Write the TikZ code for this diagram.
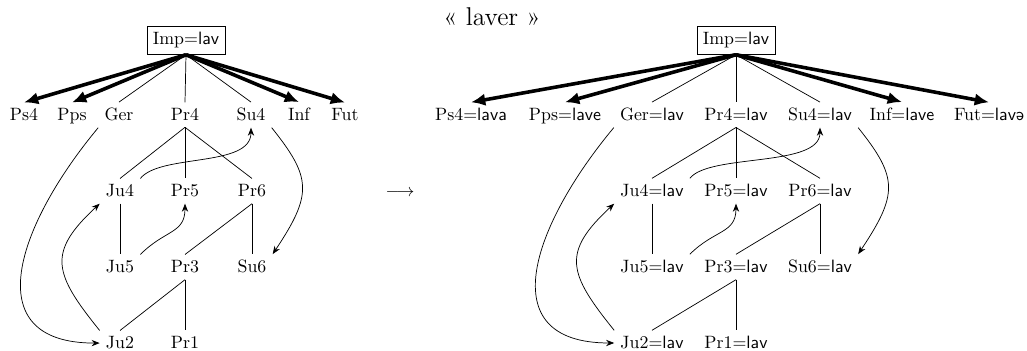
\documentclass[tikz,border=0pt]{standalone}
\usepackage{fontspec}
\usetikzlibrary{arrows.meta}
\newcommand{\ph}[1]{\textsf{#1}}
\begin{document}
\begin{tikzpicture}[x=0.56pt,y=-0.56pt,
  lab/.style={anchor=base, inner sep=3.33pt},
  impbox/.style={lab, draw, line width=0.4pt},
  bigarrow/.style={line width=2pt, -{Latex[length=8pt,width=7pt]}},
  carrow/.style={-{Stealth[length=4.5pt,width=3.5pt]}},
]
\useasboundingbox (0,0) rectangle (1027,351);
% ---------- left graph ----------
\node[impbox] (LImp) at (186,45) {Imp=\ph{lav}};
\node[lab] (LPs4) at (24,121) {Ps4};
\node[lab] (LPps) at (72,121) {Pps};
\node[lab] (LGer) at (119,121) {Ger};
\node[lab] (LPr4) at (185,121) {Pr4};
\node[lab] (LSu4) at (251,121) {Su4};
\node[lab] (LInf) at (299,121) {Inf};
\node[lab] (LFut) at (345,121) {Fut};
\node[lab] (LJu4) at (120,197) {Ju4};
\node[lab] (LPr5) at (185,197) {Pr5};
\node[lab] (LPr6) at (252,197) {Pr6};
\node[lab] (LJu5) at (120,273) {Ju5};
\node[lab] (LPr3) at (185,273) {Pr3};
\node[lab] (LSu6) at (252,273) {Su6};
\node[lab] (LJu2) at (120,349) {Ju2};
\node[lab] (LPr1) at (185,349) {Pr1};
\draw[bigarrow] (LImp.south) -- (LPs4.north);
\draw[bigarrow] (LImp.south) -- (LPps.north);
\draw[bigarrow] (LImp.south) -- (LInf.north);
\draw[bigarrow] (LImp.south) -- (LFut.north);
\draw (LImp.south) -- (LGer.north);
\draw (LImp.south) -- (LPr4.north);
\draw (LImp.south) -- (LSu4.north);
\draw (LPr4.south) -- (LJu4.north);
\draw (LPr4.south) -- (LPr5.north);
\draw (LPr4.south) -- (LPr6.north);
\draw (LJu4.south) -- (LJu5.north);
\draw (LPr6.south) -- (LPr3.north);
\draw (LPr6.south) -- (LSu6.north);
\draw (LPr3.south) -- (LJu2.north);
\draw (LPr3.south) -- (LPr1.north);
\draw[carrow] (LGer.south west) .. controls +(-80,96) and +(-125,0) .. (LJu2.west);
\draw[carrow] (LJu2.north west) .. controls +(-46,-57) and +(-53,49) .. (LJu4.south west);
\draw[carrow] (LJu5.north east) .. controls +(25,-25) and +(0,30) .. (LPr5.south);
\draw[carrow] (LJu4.north east) .. controls +(20,-25) and +(0,40) .. (LSu4.south);
\draw[carrow] (LSu4.south east) .. controls +(40,50) and +(40,-60) .. (LSu6.north east);
% ---------- middle arrow and title ----------
\node (arr) at (400,193) {$\longrightarrow$};
\node[anchor=base] (title) at (492,26) {\Large « laver »};
% ---------- right graph ----------
\node[impbox] (RImp) at (736,45) {Imp=\ph{lav}};
\node[lab] (RPs4) at (471,121) {Ps4=\ph{lava}};
\node[lab] (RPps) at (565,121) {Pps=\ph{lave}};
\node[lab] (RGer) at (652,121) {Ger=\ph{lav}};
\node[lab] (RPr4) at (736,121) {Pr4=\ph{lav}};
\node[lab] (RSu4) at (820,121) {Su4=\ph{lav}};
\node[lab] (RInf) at (902,121) {Inf=\ph{lave}};
\node[lab] (RFut) at (989,121) {Fut=\ph{lavə}};
\node[lab] (RJu4) at (652,197) {Ju4=\ph{lav}};
\node[lab] (RPr5) at (736,197) {Pr5=\ph{lav}};
\node[lab] (RPr6) at (820,197) {Pr6=\ph{lav}};
\node[lab] (RJu5) at (652,273) {Ju5=\ph{lav}};
\node[lab] (RPr3) at (736,273) {Pr3=\ph{lav}};
\node[lab] (RSu6) at (820,273) {Su6=\ph{lav}};
\node[lab] (RJu2) at (652,349) {Ju2=\ph{lav}};
\node[lab] (RPr1) at (736,349) {Pr1=\ph{lav}};
\draw[bigarrow] (RImp.south) -- (RPs4.north);
\draw[bigarrow] (RImp.south) -- (RPps.north);
\draw[bigarrow] (RImp.south) -- (RInf.north);
\draw[bigarrow] (RImp.south) -- (RFut.north);
\draw (RImp.south) -- (RGer.north);
\draw (RImp.south) -- (RPr4.north);
\draw (RImp.south) -- (RSu4.north);
\draw (RPr4.south) -- (RJu4.north);
\draw (RPr4.south) -- (RPr5.north);
\draw (RPr4.south) -- (RPr6.north);
\draw (RJu4.south) -- (RJu5.north);
\draw (RPr6.south) -- (RPr3.north);
\draw (RPr6.south) -- (RSu6.north);
\draw (RPr3.south) -- (RJu2.north);
\draw (RPr3.south) -- (RPr1.north);
\draw[carrow] (RGer.south west) .. controls +(-80,96) and +(-125,0) .. (RJu2.west);
\draw[carrow] (RJu2.north west) .. controls +(-46,-57) and +(-53,49) .. (RJu4.south west);
\draw[carrow] (RJu5.north east) .. controls +(25,-25) and +(0,30) .. (RPr5.south);
\draw[carrow] (RJu4.north east) .. controls +(20,-25) and +(0,40) .. (RSu4.south);
\draw[carrow] (RSu4.south east) .. controls +(40,50) and +(40,-60) .. (RSu6.north east);
\end{tikzpicture}
\end{document}
